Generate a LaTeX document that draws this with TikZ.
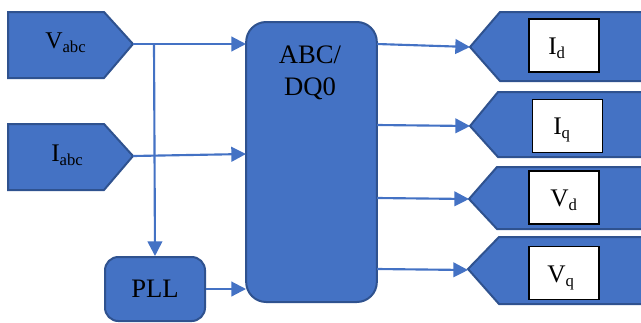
\documentclass[tikz,border=0pt]{standalone}
\usepackage{fontspec}
\setmainfont{Liberation Serif}
\usetikzlibrary{arrows.meta}
\definecolor{fillblue}{HTML}{4472C4}
\definecolor{edgeblue}{HTML}{2F528F}
\newcommand{\subtxt}[1]{\raisebox{-3.5pt}{\fontsize{12.5}{12.5}\selectfont #1}}
\begin{document}
\begin{tikzpicture}[x=0.75pt,y=-0.75pt,
 blk/.style={fill=fillblue,draw=edgeblue,line width=1.5pt,line join=miter},
 conn/.style={draw=fillblue,line width=1.6pt,-{Triangle[length=11pt,width=11pt]}},
 lbl/.style={font=\fontsize{19}{19}\selectfont,inner sep=0pt,anchor=base west},
 big/.style={font=\fontsize{20}{20}\selectfont,inner sep=0pt,anchor=base},
 wbox/.style={fill=white,draw=black,line width=1pt,inner sep=0pt,minimum width=52.5pt,minimum height=39.75pt}]
\useasboundingbox (0,0) rectangle (641,322);
% input pentagons
\draw[blk] (8,12)--(104,12)--(133,44)--(104,78)--(8,78)--cycle;
\coordinate (vtip) at (133,44);
\node[lbl,font=\fontsize{18}{18}\selectfont] (vlab) at (45,48) {V\subtxt{abc}};
\draw[blk] (8,124)--(104,124)--(133,156)--(104,190)--(8,190)--cycle;
\coordinate (itip) at (133,156);
\node[lbl] (ilab) at (51,161) {I\subtxt{abc}};
% central block
\node[blk,rounded corners=15pt,minimum width=98pt,minimum height=210pt,inner sep=0pt] (abc) at (311.5,162) {};
\node[big] (t1) at (310,63) {ABC/};
\node[big] (t2) at (310,95) {DQ0};
% PLL
\node[blk,rounded corners=10pt,minimum width=75pt,minimum height=48pt,inner sep=0pt] (pll) at (155,289) {};
\node[big] (plltxt) at (155,297) {PLL};
% output pentagons
\draw[blk] (470,47)--(500,12)--(646,12)--(646,81)--(500,81)--cycle;
\coordinate (o1) at (470,47);
\node[wbox] (b1) at (564,45.5) {};
\node[lbl] (l1) at (548,54) {I\subtxt{d}};
\draw[blk] (470,126)--(498,92)--(646,92)--(646,157)--(498,157)--cycle;
\coordinate (o2) at (470,126);
\node[wbox] (b2) at (567.5,126) {};
\node[lbl] (l2) at (553,134) {I\subtxt{q}};
\draw[blk] (469,199)--(497,167)--(646,167)--(646,229)--(497,229)--cycle;
\coordinate (o3) at (469,199);
\node[wbox] (b3) at (564,197.5) {};
\node[lbl] (l3) at (550,206) {V\subtxt{d}};
\draw[blk] (468,269)--(499,237)--(646,237)--(646,304)--(499,304)--cycle;
\coordinate (o4) at (468,270);
\node[wbox] (b4) at (564,273) {};
\node[lbl] (l4) at (547,282) {V\subtxt{q}};
% connectors
\coordinate (br) at (154,44);
\coordinate (a1) at (246,44);
\coordinate (a2) at (246,154);
\coordinate (a3) at (246,289);
\draw[conn] (vtip) -- (a1);
\draw[conn] (br) -- (pll.north);
\draw[conn] (itip) -- (a2);
\draw[conn] (pll.east) -- (a3);
\coordinate (s1) at (377,44);
\coordinate (s2) at (377,125);
\coordinate (s3) at (377,198);
\coordinate (s4) at (377,269);
\draw[conn] (s1) -- (o1);
\draw[conn] (s2) -- (o2);
\draw[conn] (s3) -- (o3);
\draw[conn] (s4) -- (o4);
\end{tikzpicture}
\end{document}
